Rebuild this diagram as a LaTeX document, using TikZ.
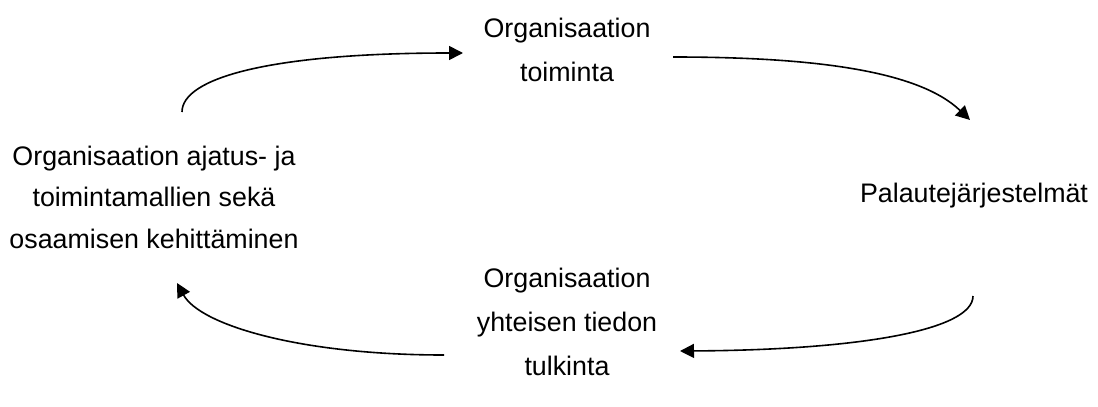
\documentclass[tikz,border=0pt]{standalone}
\usepackage{fontspec}
\setmainfont{Liberation Sans}
\usetikzlibrary{arrows.meta}
\begin{document}
\begin{tikzpicture}[x=1pt,y=-1pt,
  label text/.style={inner sep=0pt,align=center,font=\fontsize{26.8}{44}\selectfont},
  tight text/.style={label text,font=\fontsize{26.8}{41.5}\selectfont},
  cycle arrow/.style={line width=1.6pt,-{Triangle[length=14pt,width=14pt]}}]
\useasboundingbox (0,0) rectangle (1098,407);
% the four stages of the cycle
\node[label text] (act)    at (567,50)  {Organisaation\\toiminta};
\node[label text] (fb)     at (974,196) {Palautejärjestelmät};
\node[label text] (interp) at (567,322) {Organisaation\\yhteisen tiedon\\tulkinta};
\node[tight text] (dev)    at (154,197) {Organisaation ajatus- ja\\toimintamallien sekä\\osaamisen kehittäminen};
% end points of the connecting arcs
\coordinate (devTop)    at (182,112);
\coordinate (actIn)     at (463,53);
\coordinate (actOut)    at (673,57);
\coordinate (fbIn)      at (970,120);
\coordinate (fbOut)     at (973,296);
\coordinate (interpIn)  at (680,351);
\coordinate (interpOut) at (444,355);
\coordinate (devBot)    at (177,283);
% arcs
\draw[cycle arrow] (devTop) .. controls (182,78) and (270,53) .. (actIn);
\draw[cycle arrow] (actOut) .. controls (820,57) and (920,72) .. (fbIn);
\draw[cycle arrow] (fbOut) .. controls (973,330) and (860,350) .. (interpIn);
\draw[cycle arrow] (interpOut) .. controls (300,355) and (200,325) .. (devBot);
\end{tikzpicture}
\end{document}
